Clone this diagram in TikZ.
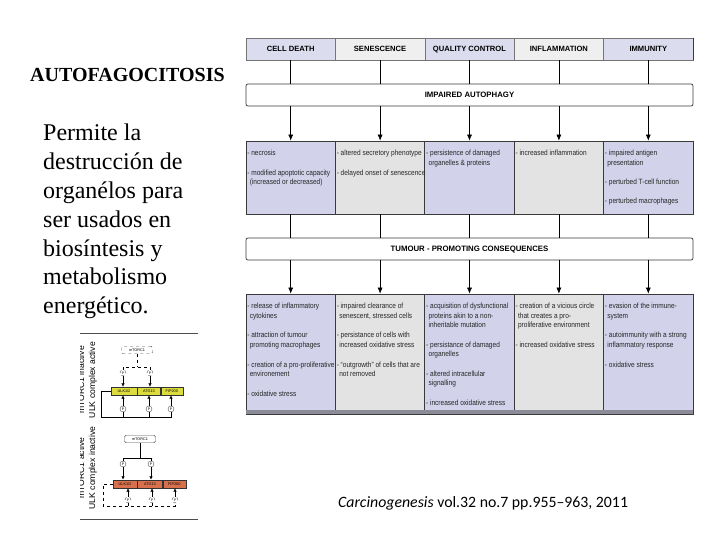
\documentclass[tikz,border=0pt]{standalone}
\usepackage{fontspec}
\setmainfont{Liberation Serif}
\newfontfamily\boxfont[FakeStretch=0.86]{Liberation Sans}
\newfontfamily\headfont{Liberation Sans}
\newfontfamily\citefont{Carlito}
\usepackage{tikz}
\usetikzlibrary{arrows.meta}
\definecolor{headlav}{HTML}{DCDCEF}
\definecolor{headgray}{HTML}{EFEFEF}
\definecolor{boxlav}{HTML}{D2D2EA}
\definecolor{boxgray}{HTML}{E3E3E3}
\definecolor{edge}{HTML}{3A3A3A}
\definecolor{shadowgray}{HTML}{8C8C98}
\definecolor{ulkyellow}{HTML}{DCDC3C}
\definecolor{ulkorange}{HTML}{D8704E}
\tikzstyle{Title}=[inner sep=0pt, font=\bfseries\fontsize{20}{24}\selectfont]
\tikzstyle{Body}=[inner sep=0pt, align=left, font=\fontsize{24}{28.8}\selectfont]
\tikzstyle{Header}=[draw=edge!70, line width=0.6pt, minimum width=89.4pt, minimum height=22pt, inner sep=0pt, text height=5.6pt, text depth=0pt, font=\headfont\bfseries\fontsize{7.6}{9}\selectfont]
\tikzstyle{Bar}=[draw=edge, rounded corners=2pt, line width=0.7pt, fill=white, minimum width=447pt, minimum height=22pt, inner sep=0pt, text height=5.8pt, text depth=0pt, font=\headfont\bfseries\fontsize{7.8}{9}\selectfont]
\tikzstyle{Effect}=[draw=edge, line width=0.7pt, minimum width=89.4pt, minimum height=73pt, inner sep=0pt]
\tikzstyle{Consequence}=[draw=edge, line width=0.7pt, minimum width=89.4pt, minimum height=120pt, inner sep=0pt]
\tikzstyle{Items}=[anchor=north west, xshift=1.5pt, yshift=-9.5pt, inner sep=0pt, align=left, text=black!85, font=\boxfont\fontsize{7.6}{9.3}\selectfont]
\tikzstyle{Cite}=[inner sep=0pt, font=\citefont\fontsize{15.8}{18}\selectfont]
\tikzstyle{Legend}=[inner sep=0pt, align=center, rotate=90, font=\headfont\fontsize{8.6}{11}\selectfont]
\tikzstyle{Kinase}=[draw=black!80, line width=0.4pt, minimum height=8pt, inner sep=0pt, font=\headfont\fontsize{3.8}{4}\selectfont]
\tikzstyle{Mtor}=[draw=black!70, rounded corners=1.5pt, line width=0.4pt, minimum width=31pt, minimum height=7.5pt, inner sep=0pt, fill=white, font=\headfont\fontsize{3.8}{4}\selectfont]
\tikzstyle{Phos}=[draw=black!70, circle, line width=0.4pt, minimum size=6pt, inner sep=0pt, fill=white, font=\headfont\fontsize{3.5}{4}\selectfont]
\tikzstyle{arrow}=[line width=0.6pt]
\tikzstyle{link}=[line width=0.6pt]
\pgfdeclarelayer{nodelayer}
\pgfdeclarelayer{edgelayer}
\pgfsetlayers{nodelayer, edgelayer, main}

\begin{document}
\begin{tikzpicture}[x=1pt, y=-1pt, >={Latex[length=6pt, width=5pt]}]
	\useasboundingbox (0,0) rectangle (720,540);
	\begin{pgfonlayer}{nodelayer}
		% slide text
		\node [style=Title, anchor=base] (title) at (127.5, 82) {AUTOFAGOCITOSIS};
		\node [style=Body, anchor=north west] (body) at (43, 124) {Permite la\\ destrucción de\\ organélos para\\ ser usados en\\ biosíntesis y\\ metabolismo\\ energético.};
		\node [style=Cite, anchor=base west] (cite) at (338, 507) {\itshape Carcinogenesis\upshape\ vol.32 no.7 pp.955–963, 2011};
		% processes
		\node [style=Header, fill=headlav] (death) at (290.7, 49) {CELL DEATH};
		\node [style=Header, fill=headgray] (senescence) at (380.1, 49) {SENESCENCE};
		\node [style=Header, fill=headlav] (quality) at (469.5, 49) {QUALITY CONTROL};
		\node [style=Header, fill=headgray] (inflammation) at (558.9, 49) {INFLAMMATION};
		\node [style=Header, fill=headlav] (immunity) at (648.3, 49) {IMMUNITY};
		\node [style=Bar] (impaired) at (469.5, 95) {IMPAIRED AUTOPHAGY};
		% direct effects
		\node [style=Effect, fill=boxlav] (death_fx) at (290.7, 177.5) {};
		\node [style=Effect, fill=boxgray] (senescence_fx) at (380.1, 177.5) {};
		\node [style=Effect, fill=boxlav] (quality_fx) at (469.5, 177.5) {};
		\node [style=Effect, fill=boxgray] (inflammation_fx) at (558.9, 177.5) {};
		\node [style=Effect, fill=boxlav] (immunity_fx) at (648.3, 177.5) {};
		\node [style=Bar] (tumour) at (469.5, 249) {TUMOUR - PROMOTING CONSEQUENCES};
		% tumour promoting consequences
		\node [style=Consequence, fill=boxlav] (death_tp) at (290.7, 354) {};
		\node [style=Consequence, fill=boxgray] (senescence_tp) at (380.1, 354) {};
		\node [style=Consequence, fill=boxlav] (quality_tp) at (469.5, 354) {};
		\node [style=Consequence, fill=boxgray] (inflammation_tp) at (558.9, 354) {};
		\node [style=Consequence, fill=boxlav] (immunity_tp) at (648.3, 354) {};
		% texts of the direct effects
		\node [style=Items] (death_fx_txt) at (death_fx.north west) {- necrosis\\[10.5pt] - modified apoptotic capacity\\ \hspace*{2.5pt}(increased or decreased)};
		\node [style=Items] (senescence_fx_txt) at (senescence_fx.north west) {- altered secretory phenotype\\[10.5pt] - delayed onset of senescence};
		\node [style=Items] (quality_fx_txt) at (quality_fx.north west) {- persistence of damaged\\ \hspace*{2.5pt}organelles \& proteins};
		\node [style=Items] (inflammation_fx_txt) at (inflammation_fx.north west) {- increased inflammation};
		\node [style=Items] (immunity_fx_txt) at (immunity_fx.north west) {- impaired antigen\\ \hspace*{2.5pt}presentation\\[10.5pt] - perturbed T-cell function\\[9pt] - perturbed macrophages};
		% texts of the consequences
		\node [style=Items] (death_tp_txt) at (death_tp.north west) {- release of inflammatory\\ \hspace*{2.5pt}cytokines\\[10.5pt] - attraction of tumour\\ \hspace*{2.5pt}promoting macrophages\\[10.5pt] - creation of a pro-proliferative\\ \hspace*{2.5pt}environement\\[10.5pt] - oxidative stress};
		\node [style=Items] (senescence_tp_txt) at (senescence_tp.north west) {- impaired clearance of\\ \hspace*{2.5pt}senescent, stressed cells\\[10.5pt] - persistance of cells with\\ \hspace*{2.5pt}increased oxidative stress\\[10.5pt] - “outgrowth” of cells that are\\ \hspace*{2.5pt}not removed};
		\node [style=Items] (quality_tp_txt) at (quality_tp.north west) {- acquisition of dysfunctional\\ \hspace*{2.5pt}proteins akin to a non-\\ \hspace*{2.5pt}inheritable mutation\\[10.5pt] - persistance of damaged\\ \hspace*{2.5pt}organelles\\[10.5pt] - altered intracellular\\ \hspace*{2.5pt}signalling\\[10.5pt] - increased oxidative stress};
		\node [style=Items] (inflammation_tp_txt) at (inflammation_tp.north west) {- creation of a vicious circle\\ \hspace*{2.5pt}that creates a pro-\\ \hspace*{2.5pt}proliferative environment\\[10.5pt] - increased oxidative stress};
		\node [style=Items] (immunity_tp_txt) at (immunity_tp.north west) {- evasion of the immune-\\ \hspace*{2.5pt}system\\[10.5pt] - autoimmunity with a strong\\ \hspace*{2.5pt}inflammatory response\\[10.5pt] - oxidative stress};
	\end{pgfonlayer}
	\begin{pgfonlayer}{edgelayer}
		% processes to impaired autophagy
		\draw [style=link] (death.south) to (death.south |- impaired.north);
		\draw [style=link] (senescence.south) to (senescence.south |- impaired.north);
		\draw [style=link] (quality.south) to (quality.south |- impaired.north);
		\draw [style=link] (inflammation.south) to (inflammation.south |- impaired.north);
		\draw [style=link] (immunity.south) to (immunity.south |- impaired.north);
		% impaired autophagy to direct effects
		\draw [->, style=arrow] (impaired.south -| death_fx) to (death_fx.north);
		\draw [->, style=arrow] (impaired.south -| senescence_fx) to (senescence_fx.north);
		\draw [->, style=arrow] (impaired.south -| quality_fx) to (quality_fx.north);
		\draw [->, style=arrow] (impaired.south -| inflammation_fx) to (inflammation_fx.north);
		\draw [->, style=arrow] (impaired.south -| immunity_fx) to (immunity_fx.north);
		% direct effects to tumour bar
		\draw [style=link] (death_fx.south) to (death_fx.south |- tumour.north);
		\draw [style=link] (senescence_fx.south) to (senescence_fx.south |- tumour.north);
		\draw [style=link] (quality_fx.south) to (quality_fx.south |- tumour.north);
		\draw [style=link] (inflammation_fx.south) to (inflammation_fx.south |- tumour.north);
		\draw [style=link] (immunity_fx.south) to (immunity_fx.south |- tumour.north);
		% tumour bar to consequences
		\draw [->, style=arrow] (tumour.south -| death_tp) to (death_tp.north);
		\draw [->, style=arrow] (tumour.south -| senescence_tp) to (senescence_tp.north);
		\draw [->, style=arrow] (tumour.south -| quality_tp) to (quality_tp.north);
		\draw [->, style=arrow] (tumour.south -| inflammation_tp) to (inflammation_tp.north);
		\draw [->, style=arrow] (tumour.south -| immunity_tp) to (immunity_tp.north);
		% shadows
		\fill [shadowgray] ([yshift=4pt]death_tp.south west) rectangle (immunity_tp.south east);
		\draw [draw=edge, line width=1.6pt] (immunity.north east) to (immunity.south east);
		\draw [draw=edge, line width=1.6pt] (immunity_fx.north east) to (immunity_fx.south east);
		\draw [draw=edge, line width=1.6pt] (immunity_tp.north east) to (immunity_tp.south east);
	\end{pgfonlayer}
	% ULK complex inset
	\begin{scope}[>={Latex[length=3.5pt, width=3.5pt]}, line width=0.5pt]
		\clip (80, 325) rectangle (200, 523);
		\draw [draw=black!70, line width=0.6pt] (80, 333) to (198, 333);
		\draw [draw=black!70, line width=0.6pt] (80, 519) to (198, 519);
		\node [style=Legend] (active_lbl) at (87.5, 380) {mTORC1 inactive\\ ULK complex active};
		\node [style=Legend] (inactive_lbl) at (87.5, 468) {mTORC1 active\\ ULK complex inactive};
		% mTORC1 inactive
		\node [style=Mtor, dashed] (mtor_off) at (137, 350) {mTORC1};
		\node [style=Phos, dashed] (p_off1) at (123, 373) {P};
		\node [style=Phos, dashed] (p_off2) at (150, 373) {P};
		\node [style=Kinase, fill=ulkyellow, minimum width=26pt] (ulk_on) at (124, 391) {ULK1/2};
		\node [style=Kinase, fill=ulkyellow, minimum width=23pt, anchor=west] (atg_on) at (ulk_on.east) {ATG13};
		\node [style=Kinase, fill=ulkyellow, minimum width=22pt, anchor=west] (fip_on) at (atg_on.east) {FIP200};
		\node [style=Phos] (p_on1) at (123, 409) {P};
		\node [style=Phos] (p_on2) at (149, 409) {P};
		\node [style=Phos] (p_on3) at (171, 409) {P};
		\coordinate (rail_on) at (101, 417);
		\draw [dashed] (mtor_off.south) to ++(0, 13) coordinate (split_off);
		\draw [dashed] (p_off1.north) |- (split_off) -| (p_off2.north);
		\draw [->] (p_off1.south) to (p_off1.south |- ulk_on.north);
		\draw [->] (p_off2.south) to (p_off2.south |- atg_on.north);
		\draw (ulk_on.west) -| (rail_on) -| (p_on3.south);
		\draw (p_on1.south) to (p_on1.south |- rail_on);
		\draw (p_on2.south) to (p_on2.south |- rail_on);
		\draw [->] (p_on1.north) to (p_on1.north |- ulk_on.south);
		\draw [->] (p_on2.north) to (p_on2.north |- atg_on.south);
		\draw [->] (p_on3.north) to (p_on3.north |- fip_on.south);
		% mTORC1 active
		\node [style=Mtor] (mtor_on) at (140, 439) {mTORC1};
		\node [style=Phos] (p_act1) at (123, 464) {P};
		\node [style=Phos] (p_act2) at (151, 464) {P};
		\node [style=Kinase, fill=ulkorange, minimum width=24pt] (ulk_off) at (125, 484) {ULK1/2};
		\node [style=Kinase, fill=ulkorange, minimum width=25pt, anchor=west] (atg_off) at (ulk_off.east) {ATG13};
		\node [style=Kinase, fill=ulkorange, minimum width=23pt, anchor=west] (fip_off) at (atg_off.east) {FIP200};
		\node [style=Phos, dashed] (p_free1) at (128, 500) {P};
		\node [style=Phos, dashed] (p_free2) at (152, 500) {P};
		\node [style=Phos, dashed] (p_free3) at (175, 500) {P};
		\coordinate (rail_off) at (103, 506);
		\draw (mtor_on.south) to ++(0, 15) coordinate (split_on);
		\draw (p_act1.north) |- (split_on) -| (p_act2.north);
		\draw [->, line width=0.8pt] (p_act1.south) to (p_act1.south |- ulk_off.north);
		\draw [->, line width=0.8pt] (p_act2.south) to (p_act2.south |- atg_off.north);
		\draw [dashed] (ulk_off.west) -| (rail_off) -| (p_free3.south);
		\draw [dashed] (p_free1.south) to (p_free1.south |- rail_off);
		\draw [dashed] (p_free2.south) to (p_free2.south |- rail_off);
		\draw [->] (p_free1.north) to (p_free1.north |- ulk_off.south);
		\draw [->] (p_free2.north) to (p_free2.north |- atg_off.south);
		\draw [->] (p_free3.north) to (p_free3.north |- fip_off.south);
	\end{scope}
\end{tikzpicture}
\end{document}
